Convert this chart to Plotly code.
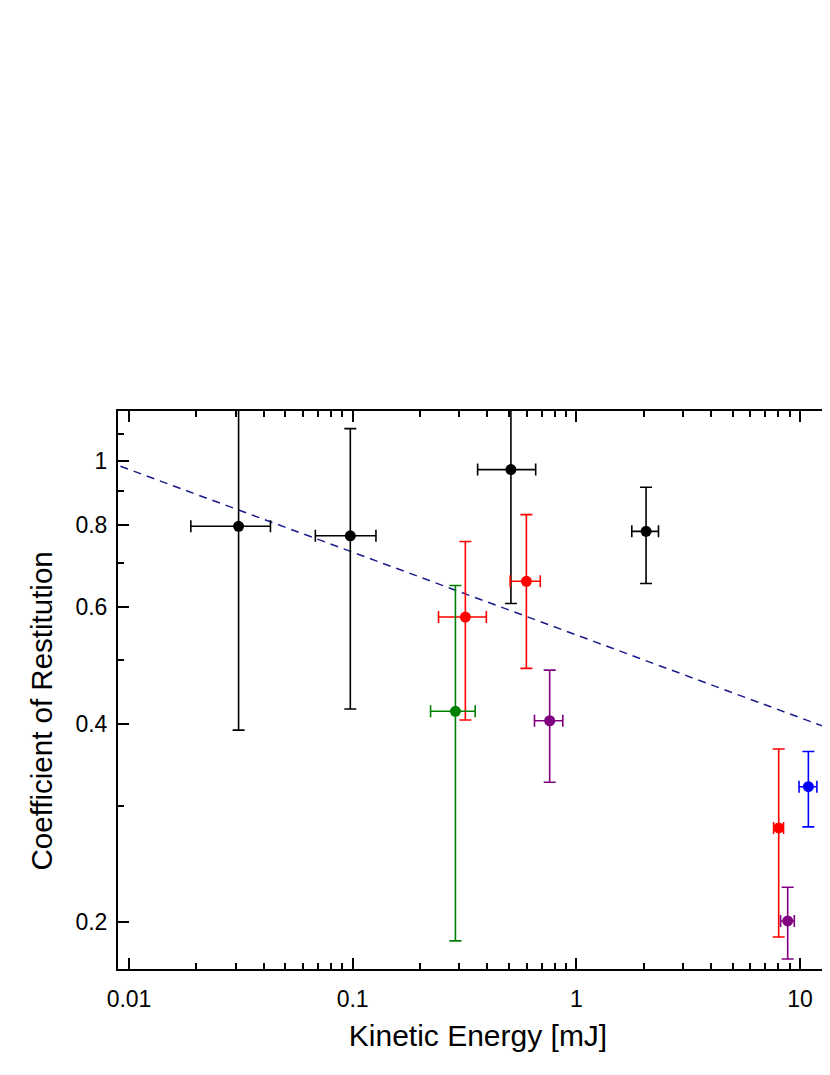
import plotly.graph_objects as go

# measured coefficient of restitution vs kinetic energy, grouped by colour
black_x = [0.0309, 0.0976, 0.510, 2.05]
black_y = [0.796, 0.770, 0.970, 0.782]
black_xerr = [0.012, 0.0295, 0.148, 0.28]
black_yerr = [0.405, 0.349, 0.362, 0.13]

red_x = [0.319, 0.598, 8.03]
red_y = [0.580, 0.657, 0.278]
red_xerr = [0.077, 0.092, 0.41]
red_yerr = [0.175, 0.172, 0.088]

green_x = [0.288]
green_y = [0.4175]
green_xerr = [0.065]
green_yerr = [0.23]

purple_x = [0.760, 8.81]
purple_y = [0.404, 0.201]
purple_xerr = [0.11, 0.62]
purple_yerr = [0.078, 0.025]

blue_x = [10.9]
blue_y = [0.321]
blue_xerr = [1.0]
blue_yerr = [0.042]

# dashed power-law fit, end points
fit_x = [0.008, 16]
fit_y = [0.998, 0.385]

x_ticks = [0.01, 0.1, 1, 10]
x_ticktext = ['0.01', '0.1', '1', '10']
y_ticks = [0.2, 0.4, 0.6, 0.8, 1]
y_ticktext = ['0.2', '0.4', '0.6', '0.8', '1']
y_minor = [0.3, 0.5, 0.7, 0.9, 1.1]

FONT = 'Liberation Sans, Arial, sans-serif'

groups = [
    (black_x, black_y, black_xerr, black_yerr, 'black'),
    (red_x, red_y, red_xerr, red_yerr, 'red'),
    (green_x, green_y, green_xerr, green_yerr, 'green'),
    (purple_x, purple_y, purple_xerr, purple_yerr, 'purple'),
    (blue_x, blue_y, blue_xerr, blue_yerr, 'blue'),
]

fig = go.Figure()

fig.add_trace(go.Scatter(
    x=fit_x, y=fit_y, mode='lines',
    line=dict(color='#1a1a8c', width=1.5, dash='8px,6px'),
    hoverinfo='skip'
))

for x, y, xerr, yerr, color in groups:
    fig.add_trace(go.Scatter(
        x=x, y=y, mode='markers',
        marker=dict(size=11, color=color, symbol='circle'),
        error_x=dict(type='data', array=xerr, color=color, thickness=1.6, width=6),
        error_y=dict(type='data', array=yerr, color=color, thickness=1.6, width=6),
        cliponaxis=True
    ))

fig.update_xaxes(
    type='log', range=[-2.0492, 1.1699],
    tickvals=x_ticks, ticktext=x_ticktext,
    ticks='inside', ticklen=11, tickwidth=2, tickcolor='black',
    minor=dict(ticks='inside', ticklen=6, tickwidth=1.5, tickcolor='black', dtick='D1'),
    showline=True, linecolor='black', linewidth=2, mirror='allticks',
    showgrid=False, zeroline=False,
    tickfont=dict(family=FONT, size=23, color='black'),
    ticklabelstandoff=8,
    title=dict(text='Kinetic Energy [mJ]', font=dict(family=FONT, size=30, color='black'), standoff=14)
)

fig.update_yaxes(
    type='log', range=[-0.7696, 0.0755],
    tickvals=y_ticks, ticktext=y_ticktext,
    ticks='inside', ticklen=11, tickwidth=2, tickcolor='black',
    minor=dict(ticks='inside', ticklen=6, tickwidth=1.5, tickcolor='black', tickvals=y_minor),
    showline=True, linecolor='black', linewidth=2, mirror=False,
    showgrid=False, zeroline=False,
    tickfont=dict(family=FONT, size=23, color='black'),
    ticklabelstandoff=4
)

# y title sits a bit below the middle of the axis in the original
fig.add_annotation(
    text='Coefficient of Restitution', textangle=-90,
    xref='paper', yref='paper', x=0, y=0.4615,
    xanchor='center', yanchor='middle', xshift=-77,
    showarrow=False,
    font=dict(family=FONT, size=29.5, color='black')
)

fig.update_layout(
    width=830, height=1075,
    autosize=False,
    showlegend=False,
    plot_bgcolor='white',
    paper_bgcolor='white',
    margin=dict(l=110, r=0, t=403, b=114)
)

fig.write_html("out.html")
